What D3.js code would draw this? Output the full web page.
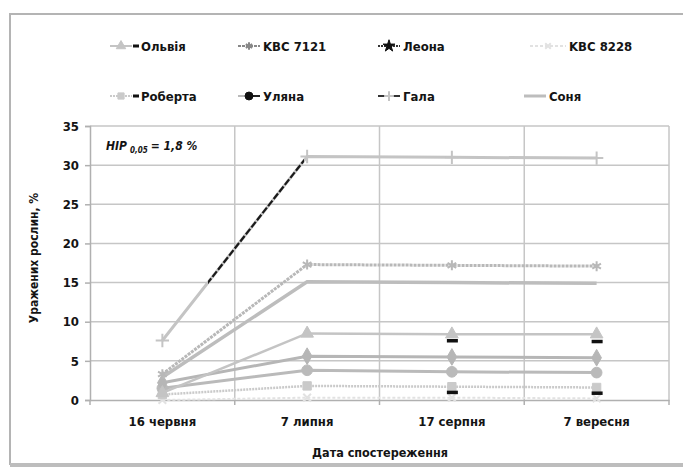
<!DOCTYPE html>
<html>
<head>
<meta charset="utf-8">
<script src="https://d3js.org/d3.v7.min.js"></script>
<style>
    body { margin: 0; background: #fff; }
    text { font-family: "Liberation Sans Narrow", "DejaVu Sans Condensed", sans-serif; font-weight: bold; fill: #141414; }
</style>
</head>
<body>
<div id="chart"></div>
<script>

    // categories and tick labels
    var dates = ["16 червня", "7 липня", "17 серпня", "7 вересня"];
    var yTicks = [0, 5, 10, 15, 20, 25, 30, 35];

    // series values, % of affected plants
    var olviaValues = [0.9, 8.5, 8.4, 8.4];
    var kbc7121Values = [3.3, 17.3, 17.2, 17.1];
    var leonaValues = [2.2, 5.6, 5.5, 5.4];
    var kbc8228Values = [0.0, 0.3, 0.3, 0.2];
    var robertaValues = [0.7, 1.8, 1.7, 1.6];
    var ulianaValues = [1.5, 3.8, 3.6, 3.5];
    var galaValues = [7.6, 31.1, 31.0, 30.9];
    var soniaValues = [2.9, 15.1, 15.0, 14.9];

    // small black dashes under the Ольвія and Роберта markers
    var olviaDash = [null, null, 7.6, 7.5];
    var robertaDash = [null, null, 1.0, 0.9];

    // part of the first Гала segment that is printed black
    var galaBlackRange = [15, 30.6];

    var width = 683, height = 474;
    var svg = d3.select("#chart").append("svg")
        .attr("width", width)
        .attr("height", height);

    // outer frame
    svg.append("rect")
        .attr("x", 10).attr("y", 14)
        .attr("width", 690).attr("height", 450)
        .attr("fill", "none")
        .attr("stroke", "#b4b4b4")
        .attr("stroke-width", 2);
    svg.append("line")
        .attr("x1", 10).attr("x2", 683).attr("y1", 465).attr("y2", 465)
        .attr("stroke", "#bdbdbd").attr("stroke-width", 4);

    var x = d3.scaleBand().domain(dates).range([90, 669]);
    var y = d3.scaleLinear().domain([0, 35]).range([400, 126]);
    var cx = function (d) { return x(d) + x.bandwidth() / 2; };

    // grid
    var grid = svg.append("g");
    grid.selectAll(".h").data(yTicks.slice(1)).enter().append("line")
        .attr("x1", 90).attr("x2", 669)
        .attr("y1", function (d) { return y(d); })
        .attr("y2", function (d) { return y(d); })
        .attr("stroke", "#c6c6c6").attr("stroke-width", 1.5);
    grid.selectAll(".v").data(dates.slice(1).concat(["end"])).enter().append("line")
        .attr("x1", function (d, i) { return 90 + x.bandwidth() * (i + 1); })
        .attr("x2", function (d, i) { return 90 + x.bandwidth() * (i + 1); })
        .attr("y1", y(35)).attr("y2", y(0))
        .attr("stroke", "#c6c6c6").attr("stroke-width", 1.5);

    // axes
    var yAxis = svg.append("g")
        .attr("transform", "translate(90,0)")
        .call(d3.axisLeft(y).tickValues(yTicks).tickSize(5).tickPadding(6));
    yAxis.select(".domain").attr("stroke", "#b0b0b0").attr("stroke-width", 1.5);
    yAxis.selectAll(".tick line").attr("stroke", "#b0b0b0").attr("stroke-width", 1.5);
    yAxis.selectAll("text").style("font-size", "13px");

    var xAxis = svg.append("g")
        .attr("transform", "translate(0,400)")
        .call(d3.axisBottom(x).tickSize(0).tickPadding(17));
    xAxis.select(".domain").attr("stroke", "#b0b0b0").attr("stroke-width", 1.5);
    xAxis.selectAll("text").style("font-size", "13px");
    xAxis.selectAll(".bt").data(d3.range(5)).enter().append("line")
        .attr("x1", function (d) { return 90 + x.bandwidth() * d; })
        .attr("x2", function (d) { return 90 + x.bandwidth() * d; })
        .attr("y1", 0).attr("y2", 5)
        .attr("stroke", "#b0b0b0").attr("stroke-width", 1.5);

    svg.append("text")
        .attr("transform", "translate(38,258) rotate(-90)")
        .attr("text-anchor", "middle")
        .style("font-size", "12px")
        .text("Уражених рослин, %");
    svg.append("text")
        .attr("x", 380).attr("y", 457)
        .attr("text-anchor", "middle")
        .style("font-size", "12.5px")
        .text("Дата спостереження");

    var hip = svg.append("text")
        .attr("x", 106).attr("y", 150)
        .style("font-size", "12px").style("font-style", "italic");
    hip.append("tspan").text("HIP");
    hip.append("tspan").attr("dy", 3).attr("dx", 3).style("font-size", "8px").text("0,05");
    hip.append("tspan").attr("dy", -3).attr("dx", 3).text("= 1,8 %");

    // series table
    var series = [
        { name: "Ольвія", values: olviaValues, color: "#c4c4c4", w: 2.5, dash: null, sym: d3.symbolTriangle, size: 70, fill: true },
        { name: "KBC 7121", values: kbc7121Values, color: "#b8b8b8", w: 3, dash: "3,1", sym: d3.symbolAsterisk, size: 70, fill: false },
        { name: "Леона", values: leonaValues, color: "#b6b6b6", w: 3, dash: null, sym: d3.symbolDiamond, size: 80, fill: true },
        { name: "KBC 8228", values: kbc8228Values, color: "#e2e2e2", w: 2, dash: "3,2", sym: d3.symbolTimes, size: 40, fill: false },
        { name: "Роберта", values: robertaValues, color: "#cacaca", w: 2.5, dash: "2,1", sym: d3.symbolSquare, size: 70, fill: true },
        { name: "Уляна", values: ulianaValues, color: "#bababa", w: 3, dash: null, sym: d3.symbolCircle, size: 90, fill: true },
        { name: "Гала", values: galaValues, color: "#c4c4c4", w: 3, dash: null, sym: d3.symbolPlus, size: 60, fill: false },
        { name: "Соня", values: soniaValues, color: "#bdbdbd", w: 3.5, dash: null, sym: null, size: 0, fill: false }
    ];

    var line = d3.line()
        .x(function (d, i) { return cx(dates[i]); })
        .y(function (d) { return y(d); });

    var drawOrder = [3, 4, 5, 2, 0, 7, 1, 6];
    drawOrder.forEach(function (k) {
        var s = series[k];
        svg.append("path")
            .datum(s.values)
            .attr("d", line)
            .attr("fill", "none")
            .attr("stroke", s.color)
            .attr("stroke-width", s.w)
            .attr("stroke-dasharray", s.dash);
        if (s.sym) {
            svg.selectAll(null).data(s.values).enter().append("path")
                .attr("transform", function (d, i) { return "translate(" + cx(dates[i]) + "," + y(d) + ")"; })
                .attr("d", d3.symbol().type(s.sym).size(s.size))
                .attr("fill", s.fill ? s.color : "none")
                .attr("stroke", s.color)
                .attr("stroke-width", s.fill ? 1 : 2);
        }
    });

    // black dashed part of Гала's first segment
    var g0 = galaValues[0], g1 = galaValues[1];
    var fx = function (v) { return cx(dates[0]) + (cx(dates[1]) - cx(dates[0])) * (v - g0) / (g1 - g0); };
    svg.append("clipPath").attr("id", "galaClip").append("rect")
        .attr("x", fx(galaBlackRange[0])).attr("y", 0)
        .attr("width", fx(galaBlackRange[1]) - fx(galaBlackRange[0]))
        .attr("height", height);
    svg.append("path")
        .datum(galaValues.slice(0, 2))
        .attr("d", line)
        .attr("clip-path", "url(#galaClip)")
        .attr("fill", "none")
        .attr("stroke", "#1a1a1a")
        .attr("stroke-width", 2.2)
        .attr("stroke-dasharray", "7,2");

    // black dashes
    [olviaDash, robertaDash].forEach(function (arr) {
        svg.selectAll(null).data(arr.map(function (v, i) { return { v: v, i: i }; }).filter(function (d) { return d.v != null; }))
            .enter().append("rect")
            .attr("x", function (d) { return cx(dates[d.i]) - 5; })
            .attr("y", function (d) { return y(d.v) - 1.5; })
            .attr("width", 11).attr("height", 3.5)
            .attr("fill", "#111");
    });

    // legend
    var legendPos = [
        [110, 46], [238, 46], [378, 46], [530, 46],
        [110, 96], [238, 96], [378, 96], [524, 96]
    ];
    series.forEach(function (s, i) {
        var p = legendPos[i];
        var g = svg.append("g").attr("transform", "translate(" + p[0] + "," + p[1] + ")");
        var lw = s.name === "KBC 8228" ? 36 : 22;
        var lineColor = s.color;
        if (s.name === "Леона" || s.name === "Гала") lineColor = "#333";
        if (s.name === "KBC 7121") lineColor = "#888";
        g.append("line").attr("x1", 0).attr("x2", lw).attr("y1", 0).attr("y2", 0)
            .attr("stroke", lineColor).attr("stroke-width", s.name === "Соня" ? 3 : 2)
            .attr("stroke-dasharray", s.name === "Леона" ? "2,1" : s.dash);
        if (s.name === "Уляна") {
            g.append("line").attr("x1", 10).attr("x2", lw).attr("y1", 0).attr("y2", 0)
                .attr("stroke", "#222").attr("stroke-width", 2);
        }
        if (s.sym) {
            var dark = (s.name === "Леона" || s.name === "Уляна");
            var mc = dark ? "#111" : (s.name === "KBC 7121" ? "#888" : s.color);
            g.append("path")
                .attr("transform", "translate(" + (lw / 2) + ",0)")
                .attr("d", d3.symbol().type(s.name === "Леона" ? d3.symbolStar : s.sym).size(s.size * 0.55))
                .attr("fill", s.fill || dark ? mc : "none")
                .attr("stroke", mc)
                .attr("stroke-width", s.fill ? 1 : 2);
        }
        if (s.name === "Ольвія" || s.name === "Роберта") {
            g.append("rect").attr("x", lw + 1).attr("y", -1.5).attr("width", 6).attr("height", 3).attr("fill", "#111");
        }
        g.append("text")
            .attr("x", lw + (s.name === "Ольвія" || s.name === "Роберта" ? 9 : 3))
            .attr("y", 5)
            .style("font-size", "13px")
            .text(s.name);
    });

</script>
</body>
</html>
